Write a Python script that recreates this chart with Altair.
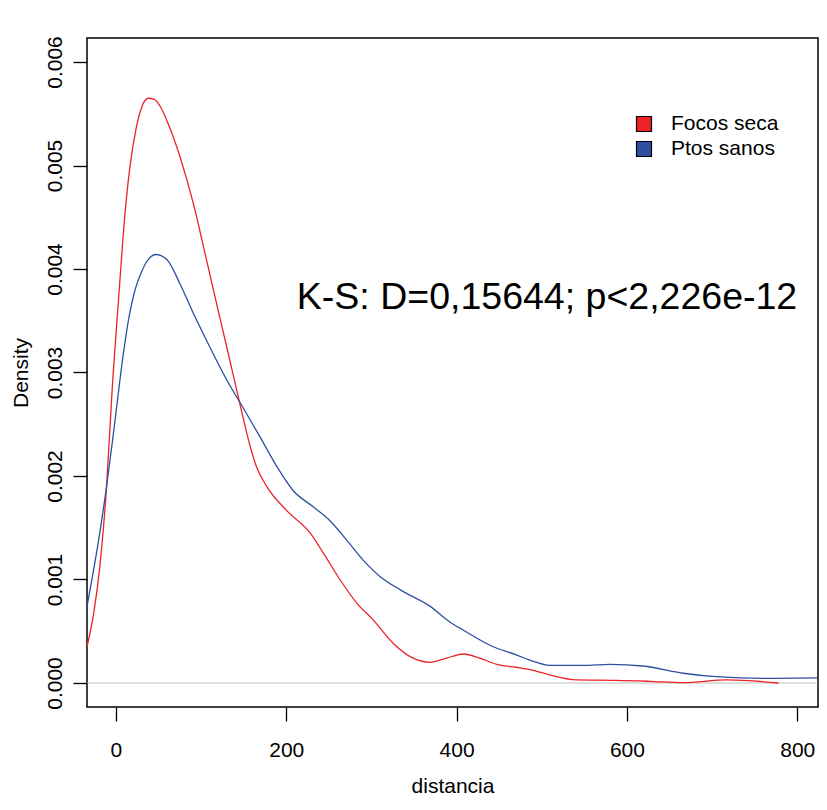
import altair as alt
import pandas as pd

# ---- data ----
series_names = ["Focos seca", "Ptos sanos"]
series_colors = ["#EE2226", "#2F4FA3"]

focos_x = [-34, -26, -19, -11, -4, 3, 9, 16, 24, 31, 38, 45, 52, 63, 75, 91, 106, 122, 130,
           146, 154, 165, 177, 200, 228, 244, 263, 283, 302, 326, 349, 369, 388, 408, 427,
           447, 470, 486, 510, 541, 588, 627, 666, 717, 778]
focos_y = [0.00035, 0.00068, 0.00112, 0.0019, 0.0029, 0.0037, 0.00438, 0.00496, 0.00537,
           0.00558, 0.00565, 0.00564, 0.00557, 0.00537, 0.00509, 0.00463, 0.00410, 0.00353,
           0.00325, 0.00268, 0.00240, 0.00209, 0.0019, 0.00167, 0.00145, 0.00125, 0.0010,
           0.00077, 0.00061, 0.00038, 0.00024, 0.00020, 0.00024, 0.00028, 0.00024, 0.00018,
           0.000152, 0.00013, 0.000077, 0.00003, 0.000026, 0.000016, 0.000003, 0.00003, 0.0]

sanos_x = [-34, -19, -11, -3, 9, 15, 20, 24, 30, 36, 47, 60, 75, 91, 107, 130, 150, 169, 189,
           208, 232, 251, 271, 290, 310, 334, 369, 392, 408, 443, 471, 486, 510, 549, 580,
           619, 666, 705, 764, 834]
sanos_y = [0.00074, 0.00145, 0.0019, 0.00241, 0.0032, 0.00352, 0.00372, 0.00384, 0.00397,
           0.00407, 0.00414, 0.00409, 0.00386, 0.00357, 0.0033, 0.00293, 0.00265, 0.00238,
           0.00209, 0.00186, 0.0017, 0.00157, 0.00138, 0.00119, 0.00103, 0.0009, 0.00074,
           0.00059, 0.00051, 0.00035, 0.00027, 0.00022, 0.00017, 0.00017, 0.00018, 0.000164,
           0.000094, 0.000061, 0.000045, 0.00005]

x_ticks = [0, 200, 400, 600, 800]
y_ticks = [0.000, 0.001, 0.002, 0.003, 0.004, 0.005, 0.006]
annotation = "K-S: D=0,15644; p<2,226e-12"

FONT = "Liberation Sans"

df = pd.concat([
    pd.DataFrame({"distancia": focos_x, "density": focos_y, "serie": series_names[0]}),
    pd.DataFrame({"distancia": sanos_x, "density": sanos_y, "serie": series_names[1]}),
])

xscale = alt.Scale(domain=[-34, 824.4], nice=False, zero=False)
yscale = alt.Scale(domain=[-0.000232, 0.006232], nice=False, zero=False)
cscale = alt.Scale(domain=series_names, range=series_colors)

zero_line = alt.Chart(pd.DataFrame({"density": [0.0]})).mark_rule(
    color="#BEBEBE", strokeWidth=1.2
).encode(y=alt.Y("density:Q", scale=yscale))

lines = alt.Chart(df).mark_line(strokeWidth=1.3, interpolate="monotone", clip=True).encode(
    x=alt.X("distancia:Q", scale=xscale,
            axis=alt.Axis(values=x_ticks, title="distancia", domain=False, grid=False,
                          tickColor="black", tickSize=14, tickWidth=1.3,
                          labelFont=FONT, labelFontSize=21, labelColor="black",
                          labelBaseline="alphabetic", labelPadding=35,
                          labelFlush=False, labelOverlap=False,
                          titleFont=FONT, titleFontSize=21, titleFontWeight="normal",
                          titleColor="black", titleBaseline="alphabetic", titleY=85)),
    y=alt.Y("density:Q", scale=yscale,
            axis=alt.Axis(values=y_ticks, format=".3f", title="Density", domain=False,
                          grid=False, tickColor="black", tickSize=14, tickWidth=1.3,
                          labelFont=FONT, labelFontSize=21, labelColor="black",
                          labelAngle=270, labelAlign="center", labelBaseline="alphabetic",
                          labelPadding=12, labelFlush=False, labelOverlap=False,
                          titleFont=FONT, titleFontSize=21, titleFontWeight="normal",
                          titleColor="black", titleAngle=270, titleBaseline="alphabetic",
                          titleX=-60, titleAnchor="middle")),
    color=alt.Color("serie:N", scale=cscale, legend=None),
    detail="serie:N",
)

text = alt.Chart(pd.DataFrame({"label": [annotation]})).mark_text(
    font=FONT, fontSize=37.5, align="center", baseline="alphabetic", color="black"
).encode(
    text="label:N",
    x=alt.value(460),
    y=alt.value(271),
)

legend_df = pd.DataFrame({"serie": series_names, "row": list(range(len(series_names)))})

legend_sq = alt.Chart(legend_df).mark_square(
    size=225, opacity=1, stroke="black", strokeWidth=1.2
).transform_calculate(
    py="86 + 25 * datum.row"
).encode(
    x=alt.value(557),
    y=alt.Y("py:Q", scale=None),
    fill=alt.Color("serie:N", scale=cscale, legend=None),
)

legend_txt = alt.Chart(legend_df).mark_text(
    font=FONT, fontSize=21, align="left", baseline="middle", color="black"
).transform_calculate(
    py="86 + 25 * datum.row"
).encode(
    x=alt.value(584),
    y=alt.Y("py:Q", scale=None),
    text="serie:N",
)

chart = alt.layer(zero_line, lines, text, legend_sq, legend_txt).properties(
    width=731, height=669,
    autosize=alt.AutoSizeParams(type="none"),
    padding={"left": 79, "top": 30, "right": 1, "bottom": 90},
).configure(
    background="white",
    view=alt.ViewConfig(stroke="black", strokeWidth=1.5),
)

chart.save("out.html", embed_options={"renderer": "svg", "actions": False})
